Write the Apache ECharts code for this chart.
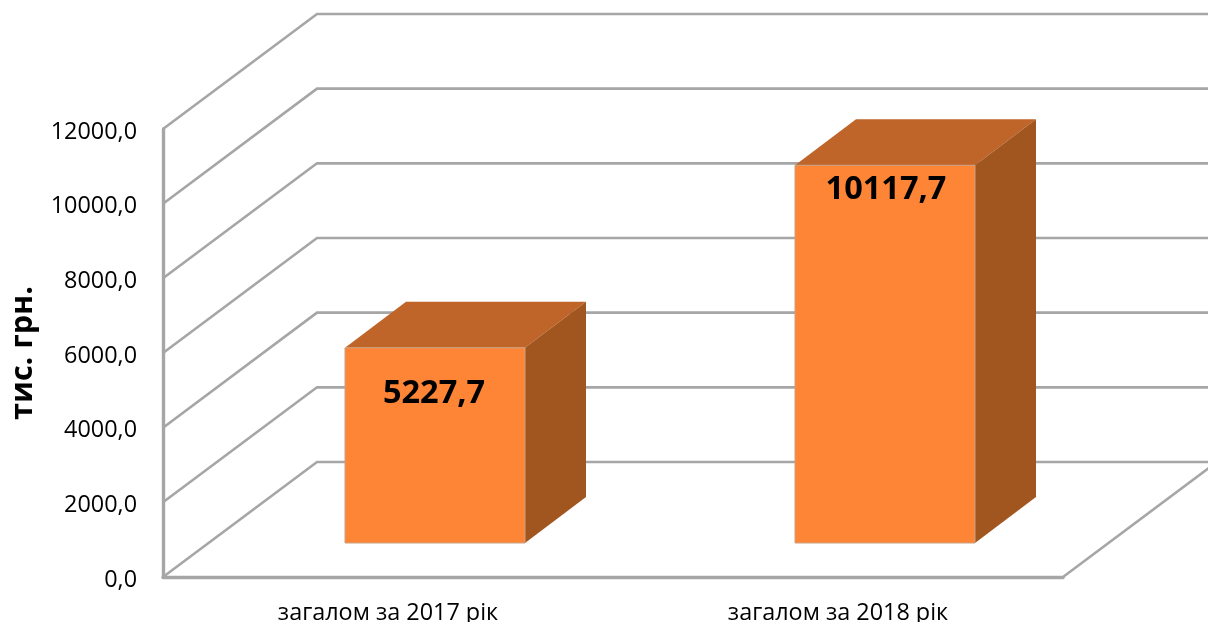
<!DOCTYPE html>
<html>
<head>
<meta charset="utf-8">
<style>html,body{margin:0;padding:0;background:#fff}#c{width:1208px;height:622px}</style>
<script src="https://cdn.jsdelivr.net/npm/echarts@6/dist/echarts.min.js"></script>
</head>
<body>
<div id="c"></div>
<script>
const categories = ['загалом за 2017 рік', 'загалом за 2018 рік'];
const values = [5227.7, 10117.7];
const dataLabels = ['5227,7', '10117,7'];
const yTicks = [0, 2000, 4000, 6000, 8000, 10000, 12000];
const yAxisName = 'тис. грн.';

const FONT = '"Open Sans", sans-serif';
const GRID = '#a6a6a6';
const WALL_DX = 154, WALL_DY = -115;      // depth of the chart box
const BAR_SHIFT_X = 47, BAR_SHIFT_Y = -34; // bar position inside the box
const BAR_DX = 61, BAR_DY = -46;           // depth of a bar
const LABEL_DROP = [46, 24];               // label centre below the bar top
const LABEL_NUDGE = [-1, 1];               // label centre beside the bar centre

const chart = echarts.init(document.getElementById('c'), null, {renderer: 'canvas'});

function renderWall(params, api) {
  const cs = params.coordSys;
  const v = api.value(0);
  const y = api.coord([0, v])[1];
  const x0 = cs.x, bx = x0 + WALL_DX, by = y + WALL_DY;
  const children = [{
    type: 'polyline',
    shape: {points: [[x0, y], [bx, by], [api.getWidth() + 2, by]]},
    style: {stroke: GRID, lineWidth: 2.6, fill: null}
  }];
  if (v === 0) {
    const xr = cs.x + cs.width;
    children.push({
      type: 'line',
      shape: {x1: xr, y1: y, x2: xr + WALL_DX, y2: by},
      style: {stroke: GRID, lineWidth: 2.6}
    });
  }
  return {type: 'group', children};
}

function renderBar(params, api) {
  const i = api.value(0);
  const val = api.value(1);
  const top = api.coord([i, val]);
  const base = api.coord([i, 0]);
  const w = api.size([1, 0])[0] * 0.4;
  const l = top[0] - w / 2 + BAR_SHIFT_X, r = l + w;
  const t = top[1] + BAR_SHIFT_Y, b = base[1] + BAR_SHIFT_Y;
  return {
    type: 'group',
    children: [
      {type: 'polygon', shape: {points: [[l, t], [r, t], [r + BAR_DX, t + BAR_DY], [l + BAR_DX, t + BAR_DY]]},
        style: {fill: '#bf652a'}},
      {type: 'polygon', shape: {points: [[r, t], [r + BAR_DX, t + BAR_DY], [r + BAR_DX, b + BAR_DY], [r, b]]},
        style: {fill: '#a15620'}},
      {type: 'rect', shape: {x: l, y: t, width: w, height: b - t},
        style: {fill: '#fe8535', stroke: '#c9a184', lineWidth: 1}},
      {type: 'text', x: (l + r) / 2 + LABEL_NUDGE[i], y: t + LABEL_DROP[i],
        style: {text: dataLabels[i], fill: '#000', font: 'bold 32.5px ' + FONT, textAlign: 'center', textVerticalAlign: 'middle'}}
    ]
  };
}

chart.setOption({
  animation: false,
  backgroundColor: '#fff',
  grid: {left: 163, right: 145, top: 129, bottom: 45, containLabel: false, outerBoundsMode: 'none'},
  xAxis: {
    type: 'category',
    data: categories,
    axisTick: {show: false},
    axisLine: {show: true, onZero: false, lineStyle: {color: GRID, width: 3.4}},
    axisLabel: {color: '#000', fontFamily: FONT, fontSize: 23.4, margin: 25}
  },
  yAxis: {
    type: 'value',
    min: 0, max: 12000, interval: 2000,
    name: yAxisName,
    nameLocation: 'middle',
    nameGap: 124,
    nameRotate: 90,
    nameTextStyle: {color: '#000', fontFamily: FONT, fontSize: 30.5, fontWeight: 'bold'},
    splitLine: {show: false},
    axisTick: {show: false},
    axisLine: {show: true, lineStyle: {color: GRID, width: 3.4}},
    axisLabel: {
      color: '#000', fontFamily: FONT, fontSize: 23.4, margin: 26,
      formatter: v => '{a|' + v.toFixed(1).replace('.', ',') + '}',
      rich: {a: {color: '#000', fontFamily: FONT, fontSize: 23.4, padding: [6, 0, 0, 0]}}
    }
  },
  series: [
    {type: 'custom', renderItem: renderWall, data: yTicks.map(v => [v]), encode: {y: 0}, z: 1, clip: false, silent: true},
    {type: 'custom', renderItem: renderBar, data: values.map((v, i) => [i, v]), encode: {x: 0, y: 1}, z: 5, clip: false, silent: true}
  ]
});
</script>
</body>
</html>
